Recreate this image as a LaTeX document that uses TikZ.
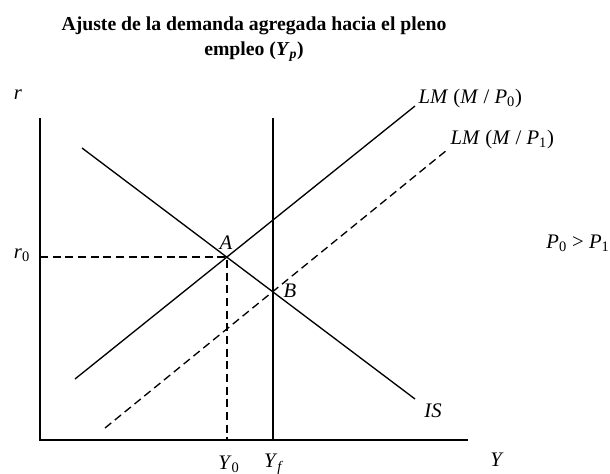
\documentclass[tikz,border=0pt]{standalone}
\usepackage{fontspec}
\setmainfont{Liberation Serif}
\begin{document}
\begin{tikzpicture}[x=0.75pt,y=-0.75pt, line width=1pt,
  lbl/.style={font=\fontsize{15.5}{18}\selectfont, inner sep=0pt},
  dsh/.style={dash pattern=on 6pt off 3.5pt}]
\useasboundingbox (0,0) rectangle (610,474);
% title
\node[font=\fontsize{14.8}{18.8}\selectfont\bfseries, align=center] (title) at (254,39)
  {Ajuste de la demanda agregada hacia el pleno\\empleo (\textit{Y}\textsubscript{\textit{p}})};
% axes
\coordinate (O) at (40,440);
\coordinate (ytop) at (40,118);
\coordinate (xend) at (468,440);
\draw (ytop) -- (O) -- (xend);
% full employment line
\coordinate (yftop) at (273,118);
\coordinate (yfbot) at (273,440);
\draw (yftop) -- (yfbot);
% curves
\coordinate (is1) at (82,148);
\coordinate (is2) at (415,399);
\coordinate (lma) at (75,379);
\coordinate (lmb) at (415,106);
\coordinate (lm1a) at (105,428);
\coordinate (lm1b) at (447,150);
\draw (is1) -- (is2);
\draw (lma) -- (lmb);
\draw[dsh] (lm1a) -- (lm1b);
% equilibrium
\coordinate (A) at (227,257);
\coordinate (B) at (273,292);
\coordinate (r0a) at (40,257);
\coordinate (y0a) at (227,440);
\draw[dsh] (r0a) -- (A) -- (y0a);
% labels
\node[lbl] (r) at (18,95) {\textit{r}};
\node[lbl] (r0) at (22,255) {\textit{r}\textsubscript{0}};
\node[lbl] (Y0) at (229,464) {\textit{Y}\textsubscript{0}};
\node[lbl] (Yf) at (274,464) {\textit{Y}\textsubscript{\textit{f}}};
\node[lbl] (Y) at (497,460) {\textit{Y}};
\node[lbl] (IS) at (433,411) {\textit{IS}};
\node[lbl, anchor=west] (LM0) at (418,99) {\textit{LM} (\textit{M} / \textit{P}\textsubscript{0})};
\node[lbl, anchor=west] (LM1) at (450,140) {\textit{LM} (\textit{M} / \textit{P}\textsubscript{1})};
\node[lbl] (P) at (578,243) {\textit{P}\textsubscript{0} \textgreater{} \textit{P}\textsubscript{1}};
\node[lbl] (Alab) at (226,243) {\textit{A}};
\node[lbl] (Blab) at (290,291) {\textit{B}};
\end{tikzpicture}
\end{document}
